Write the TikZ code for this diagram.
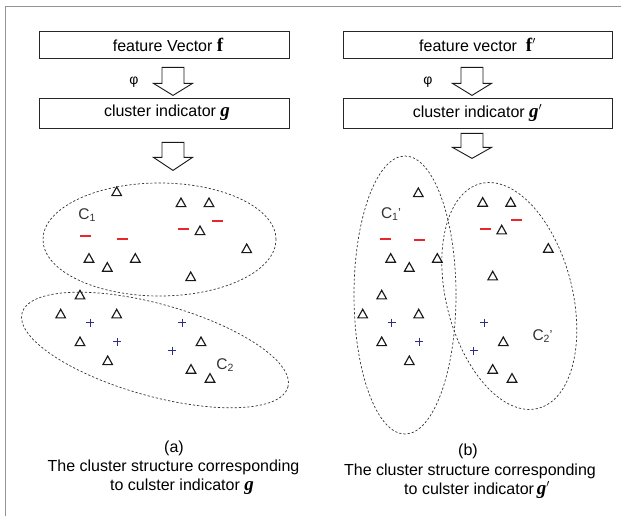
\documentclass[tikz,border=0pt]{standalone}
\usepackage{fontspec}
\setmainfont{Liberation Sans}
\newfontfamily\lserif{Liberation Serif}
\usetikzlibrary{calc}
\definecolor{mred}{HTML}{E8262D}
\definecolor{mblue}{HTML}{2E2E8A}
\newcommand\mf{{\fontsize{19}{19}\selectfont\lserif\bfseries f}}
\newcommand\mg{{\fontsize{19}{19}\selectfont\lserif\bfseries\itshape g}}
\begin{document}
\begin{tikzpicture}[x=1pt,y=-1pt,
  txt/.style={font=\fontsize{16}{19}\selectfont, inner sep=0pt},
  box/.style={draw=black!85, line width=0.8pt, inner sep=0pt, font=\fontsize{16}{19}\selectfont},
  barrow/.style={draw=black!90, line width=0.9pt, fill=white, line join=miter},
  clus/.style={draw=black!80, line width=0.7pt, dash pattern=on 2.2pt off 2pt},
  tri/.style={draw=black!90, line width=1.15pt, line join=miter},
  minus/.style={draw=mred, line width=2pt},
  plus/.style={draw=mblue, line width=0.8pt},
  clab/.style={font=\fontsize{15.5}{17}\selectfont, text=black!80, inner sep=0pt},
  phis/.style={font=\fontsize{14}{16}\selectfont, inner sep=0pt},
  pics/barr/.style 2 args={code={\draw[barrow] (-11,0) -- (11,0) -- (11,#1) -- (19.5,#1) -- (0,#2) -- (-19.5,#1) -- (-11,#1) -- cycle;}}
]
\useasboundingbox (0,0) rectangle (621,516);
% frame
\draw[gray!85, line width=1.4pt] (621,6.5) -- (5.5,6.5) -- (5.5,516);

% boxes
\node[box, minimum width=250pt, minimum height=27pt] (fL) at (164,44.5) {\hspace*{8pt}feature Vector \mf};
\node[box, minimum width=250pt, minimum height=30pt] (gL) at (164,113) {\hspace*{6pt}cluster indicator \mg};
\node[box, minimum width=269pt, minimum height=27pt] (fR) at (477.5,44.5) {feature vector\ \ \mf$'$};
\node[box, minimum width=269pt, minimum height=30pt] (gR) at (477.5,113) {cluster indicator \mg$'$};

% block arrows
\pic at ($(fL.south)+(9,9)$) {barr={16}{28}};
\pic at ($(gL.south)+(9,14)$) {barr={15}{28}};
\pic at ($(fR.south)+(-5.5,9)$) {barr={16}{28}};
\pic at ($(gR.south)+(-5.5,5)$) {barr={14}{25}};

\node[phis] (phiL) at (134,82) {φ};
\node[phis] (phiR) at (428,82) {φ};

% clusters
\draw[clus] (159.5,239.5) ellipse [x radius=116.5pt, y radius=56.5pt];
\draw[clus, rotate around={-15.6:(155,350)}] (155,350) ellipse [x radius=138pt, y radius=46pt];
\draw[clus] (405,295) ellipse [x radius=51pt, y radius=139pt];
\draw[clus, rotate around={14.4:(509.3,296)}] (509.3,296) ellipse [x radius=63pt, y radius=116pt];

% triangles
\foreach \p in {(116.7,191.7),(181,202.7),(209,202.7),(200,230.7),(246.7,248.7),(89,258.3),(107.3,267.3),(135.3,258.3),(190.7,276.7),(80,295),(60.7,314),(116.7,314),(80,341.7),(107.7,360.7),(201,341.7),(191,369.3),(210,378.3),
  (418.3,192.7),(482.7,202.3),(510.7,202.3),(501.7,230),(548.3,248.3),(390.7,258.3),(409.3,267.3),(437.3,258.3),(492.7,276),(381.7,295),(362.7,314),(418.7,314),(381.7,341.7),(409.3,360.7),(503.3,341.7),(492.7,369.3),(512,378.3)}
  \draw[tri] \p ++(-4.8,3.9) -- ++(9.6,0) -- ++(-4.8,-8.6) -- cycle;
% minus
\foreach \p in {(85,235.7),(122.3,239),(183,229.3),(217.3,220.7),(385,239.3),(419,240),(485.7,229.3),(516.7,220)}
  \draw[minus] \p ++(-5.5,0) -- ++(11,0);
% plus
\foreach \p in {(90,322.7),(117.3,341.7),(182,322.7),(172.3,350.7),(391.7,322.7),(419.3,341.7),(484,322.7),(473.7,350.7)}
  \draw[plus] \p ++(-4,0) -- ++(8,0) \p ++(0,-4) -- ++(0,8);

% cluster labels
\node[clab] (c1) at (87,215) {C\raisebox{-1.5pt}{\fontsize{10.5}{10}\selectfont 1}};
\node[clab] (c2) at (225,365) {C\raisebox{-1.5pt}{\fontsize{10.5}{10}\selectfont 2}};
\node[clab] (c1p) at (391,214) {C\raisebox{-1.5pt}{\fontsize{10.5}{10}\selectfont 1}\raisebox{1pt}{\fontsize{13}{12}\selectfont '}};
\node[clab] (c2p) at (542.5,336) {C\raisebox{-1.5pt}{\fontsize{10.5}{10}\selectfont 2}\raisebox{1pt}{\fontsize{13}{12}\selectfont '}};

% captions
\node[txt] (la) at (174,448) {(a)};
\node[txt] (la2) at (173.5,467) {The cluster structure corresponding};
\node[txt] (la3) at (182,487) {to culster indicator \mg};
\node[txt] (lb) at (468,451) {(b)};
\node[txt] (lb2) at (470,471) {The cluster structure corresponding};
\node[txt] (lb3) at (477,490) {to culster indicator\,\mg$'$};
\end{tikzpicture}
\end{document}
